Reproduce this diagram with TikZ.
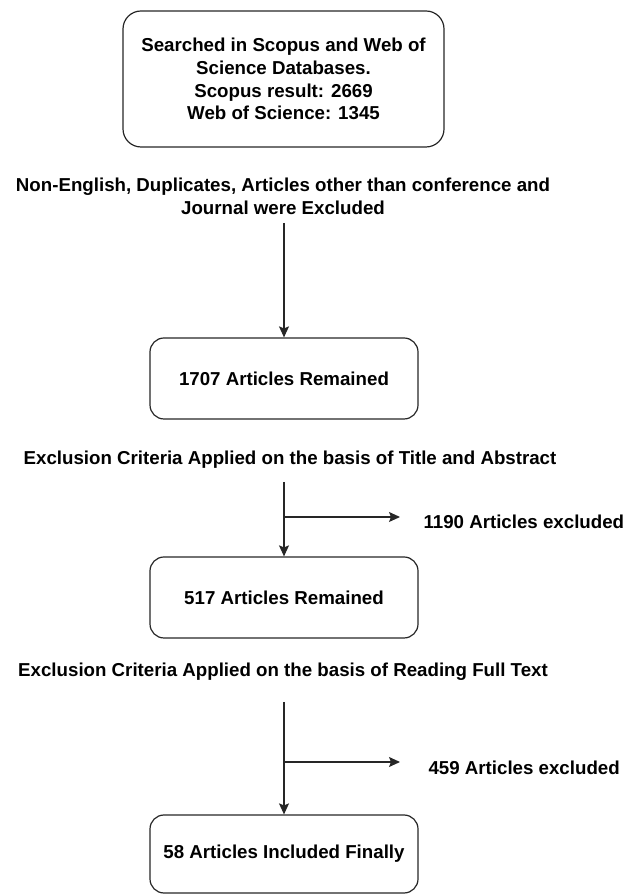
\documentclass[tikz,border=0pt]{standalone}
\usepackage{fontspec}
\setmainfont{Liberation Sans}
\usetikzlibrary{arrows.meta}
\tikzset{%
    stage/.style={%
        draw=black!85, line width=1.2pt, rounded corners=14pt,
        minimum width=268pt, minimum height=81pt,
        align=center, font=\fontsize{18.7}{22.7}\selectfont\bfseries
    },
    caption/.style={%
        align=center, font=\fontsize{18.7}{22.7}\selectfont\bfseries
    },
    flow/.style={%
        -{Stealth[length=11pt,width=10pt,inset=2pt]}, line width=1.2pt, draw=black!85
    }
}

\begin{document}
\begin{tikzpicture}[x=1pt,y=1pt]
    \useasboundingbox (0,0) rectangle (638,896);
    \node[stage, minimum width=321pt, minimum height=136pt, rounded corners=18pt] (search) at (283.5,817)
        {Searched in Scopus and Web of\\Science Databases.\\Scopus result: 2669\\Web of Science: 1345};
    \node[caption] (language) at (283,699.5)
        {Non-English, Duplicates, Articles other than conference and\\Journal were Excluded};
    \node[stage] (remained) at (284,517.5) {1707 Articles Remained};
    \node[caption] (titleabs) at (290,436)
        {Exclusion Criteria Applied on the basis of Title and Abstract};
    \node[stage] (second) at (284,298.5) {517 Articles Remained};
    \node[caption] (fulltext) at (283,224)
        {Exclusion Criteria Applied on the basis of Reading Full Text};
    \node[stage, minimum height=78pt] (final) at (284,42) {58 Articles Included Finally};
    \node[caption, anchor=west] (dropone) at (420,374) {1190 Articles excluded};
    \node[caption, anchor=west] (droptwo) at (425,128) {459 Articles excluded};
    % start and branch points of the arrows
    \coordinate (start1) at (284,673);
    \coordinate (start2) at (284,414);
    \coordinate (start3) at (284,194);
    \coordinate (fork1) at (284,379);
    \coordinate (fork2) at (284,134);
    \draw[flow] (start1) -- (remained);
    \draw[flow] (start2) -- (second);
    \draw[flow] (start3) -- (final);
    \draw[flow, shorten >=20pt] (fork1) -- (fork1 -| dropone.west);
    \draw[flow, shorten >=25pt] (fork2) -- (fork2 -| droptwo.west);
\end{tikzpicture}
\end{document}
